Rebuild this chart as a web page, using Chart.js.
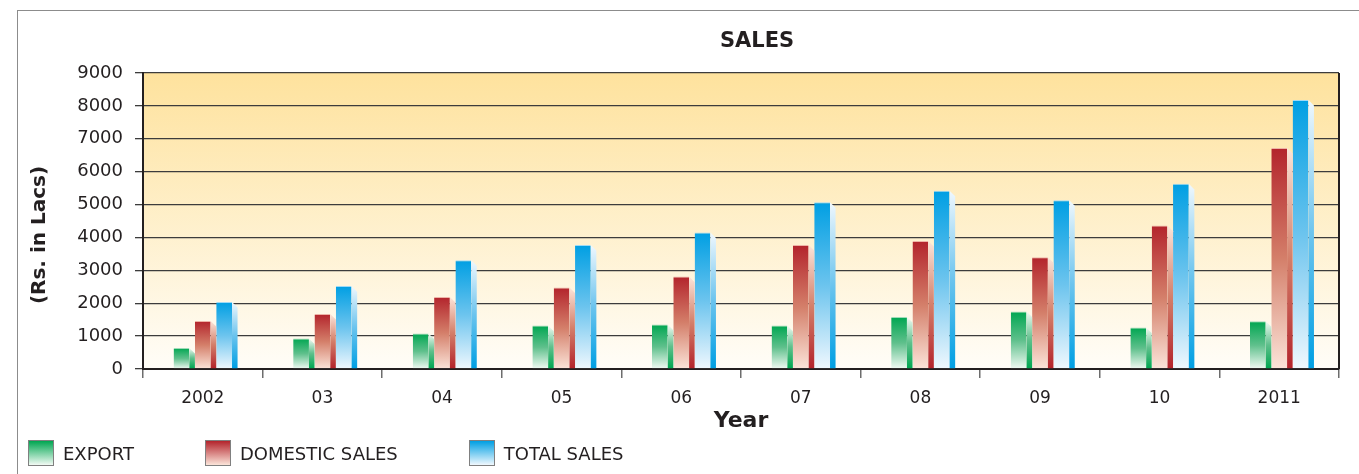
<!DOCTYPE html>
<html>
<head>
<meta charset="utf-8">
<title>Sales</title>
<script src="https://cdn.jsdelivr.net/npm/chart.js@4.4.1/dist/chart.umd.min.js"></script>
<style>
  html, body { margin: 0; padding: 0; background: #fff; overflow: hidden; }
  #wrap { position: relative; width: 1359px; height: 474px; }
  #frame { position: absolute; left: 17px; top: 10px; width: 1400px; height: 500px; border: 1.5px solid #8c8c8c; }
  #salesChart { position: absolute; left: 0; top: 0; }
  #legend { position: absolute; left: 28px; top: 440px; display: flex; font-family: 'DejaVu Sans'; font-size: 18px; color: #231f20; }
  .item { display: flex; align-items: center; margin-right: 71px; }
  .box { width: 26px; height: 26px; border: 1px solid #808080; box-sizing: border-box; margin-right: 9px; }
</style>
</head>
<body>
<div id="wrap">
  <div id="frame"></div>
  <canvas id="salesChart" width="1359" height="474"></canvas>
  <div id="legend"></div>
</div>
<script>
const YEARS = ['2002', '03', '04', '05', '06', '07', '08', '09', '10', '2011'];
const EXPORT = [640, 930, 1080, 1320, 1350, 1320, 1580, 1750, 1260, 1450];
const DOMESTIC = [1460, 1670, 2190, 2480, 2810, 3770, 3890, 3400, 4360, 6720];
const TOTAL = [2040, 2520, 3310, 3770, 4150, 5070, 5420, 5130, 5630, 8180];
const Y_MAX = 9000;
const Y_STEP = 1000;

const FONT = "'DejaVu Sans'";
const TEXT = '#231f20';
const BAR_PCT = 0.74;

// front: dark at top -> light at bottom, side: the other way round
const COLORS = {
  green: { top: '#00a651', mid: '#5fc08c', bottom: '#f2faf4', edge: '#9fdcb8' },
  red: { top: '#b3242c', mid: '#d47f6a', bottom: '#fbe4d9', edge: '#eeb3a6' },
  blue: { top: '#009fe3', mid: '#6cc4ee', bottom: '#f0f8fe', edge: '#9fdaf6' }
};

const front = (c) => (ctx) => {
  const { chart } = ctx;
  if (!chart.chartArea || ctx.type !== 'data') return c.top;
  const y = chart.scales.y.getPixelForValue(ctx.raw);
  const base = chart.scales.y.getPixelForValue(0);
  const g = chart.ctx.createLinearGradient(0, y, 0, base);
  g.addColorStop(0, c.top);
  g.addColorStop(0.5, c.mid);
  g.addColorStop(1, c.bottom);
  return g;
};

const datasets = [
  { label: 'EXPORT', data: EXPORT, c: COLORS.green },
  { label: 'DOMESTIC SALES', data: DOMESTIC, c: COLORS.red },
  { label: 'TOTAL SALES', data: TOTAL, c: COLORS.blue }
].map(d => ({
  label: d.label,
  data: d.data,
  backgroundColor: front(d.c),
  borderColor: d.c.edge,
  borderWidth: { top: 1, left: 0, right: 0, bottom: 0 },
  borderSkipped: 'bottom',
  colors3d: d.c,
  barPercentage: BAR_PCT,
  categoryPercentage: 0.535
}));

// cream background of the plot area + right frame line
const plotBackground = {
  id: 'plotBackground',
  beforeDraw(chart) {
    const { ctx, chartArea: a } = chart;
    const g = ctx.createLinearGradient(0, a.top, 0, a.bottom);
    g.addColorStop(0, '#fee29d');
    g.addColorStop(1, '#fffdf8');
    ctx.save();
    ctx.fillStyle = g;
    ctx.fillRect(a.left, a.top, a.right - a.left, a.bottom - a.top);
    ctx.restore();
  },
  beforeDatasetsDraw(chart) {
    const { ctx, chartArea: a } = chart;
    ctx.save();
    ctx.strokeStyle = '#231f20';
    ctx.lineWidth = 2;
    ctx.beginPath();
    ctx.moveTo(a.right, a.top);
    ctx.lineTo(a.right, a.bottom);
    ctx.stroke();
    ctx.restore();
  }
};

// right-hand face of each bar for the 3d look
const barSides = {
  id: 'barSides',
  afterDatasetsDraw(chart) {
    const { ctx } = chart;
    chart.data.datasets.forEach((ds, i) => {
      const meta = chart.getDatasetMeta(i);
      meta.data.forEach(bar => {
        const { x, y, base, width } = bar.getProps(['x', 'y', 'base', 'width'], true);
        const d = width / BAR_PCT - width;
        const xr = x + width / 2;
        const g = ctx.createLinearGradient(0, y, 0, base);
        g.addColorStop(0, ds.colors3d.bottom);
        g.addColorStop(0.5, ds.colors3d.mid);
        g.addColorStop(1, ds.colors3d.top);
        ctx.save();
        ctx.fillStyle = g;
        ctx.beginPath();
        ctx.moveTo(xr, y);
        ctx.lineTo(xr + d, y + d);
        ctx.lineTo(xr + d, base);
        ctx.lineTo(xr, base);
        ctx.closePath();
        ctx.fill();
        ctx.restore();
      });
    });
  }
};

// chart title and y axis title
const titles = {
  id: 'titles',
  afterDraw(chart) {
    const { ctx, chartArea: a } = chart;
    ctx.save();
    ctx.fillStyle = TEXT;
    ctx.textAlign = 'center';
    ctx.textBaseline = 'middle';
    ctx.font = `bold 21px ${FONT}`;
    ctx.fillText('SALES', (a.left + a.right) / 2 + 16, 42);
    ctx.font = `bold 20px ${FONT}`;
    ctx.translate(40, (a.top + a.bottom) / 2 + 14);
    ctx.rotate(-Math.PI / 2);
    ctx.fillText('(Rs. in Lacs)', 0, 0);
    ctx.restore();
  }
};

const chart = new Chart(document.getElementById('salesChart'), {
  type: 'bar',
  data: { labels: YEARS, datasets },
  options: {
    responsive: false,
    animation: false,
    layout: { padding: { top: 73, right: 20, bottom: 30, left: 0 } },
    plugins: {
      legend: { display: false },
      title: { display: false },
      tooltip: { enabled: false }
    },
    scales: {
      x: {
        grid: { display: true, drawOnChartArea: false, offset: true, tickLength: 9, color: '#6d6d6d', lineWidth: 1.5 },
        border: { display: true, color: TEXT, width: 2 },
        ticks: { color: TEXT, font: { family: FONT, size: 17 }, padding: 10 },
        title: { display: true, text: 'Year', color: TEXT, font: { family: FONT, size: 22, weight: 'bold' }, padding: { top: 2, bottom: 10 } },
        afterFit: (scale) => { scale.height = 75; }
      },
      y: {
        min: 0,
        max: Y_MAX,
        grid: { color: '#3c3c3c', lineWidth: 1.3, tickLength: 8 },
        border: { display: true, color: TEXT, width: 2 },
        ticks: { stepSize: Y_STEP, color: TEXT, font: { family: FONT, size: 18 }, padding: 12, callback: (v) => String(v) },
        afterFit: (scale) => { scale.width = 143; }
      }
    }
  },
  plugins: [plotBackground, barSides, titles]
});

// legend under the chart
const legend = document.getElementById('legend');
datasets.forEach(ds => {
  const item = document.createElement('div');
  item.className = 'item';
  const box = document.createElement('div');
  box.className = 'box';
  box.style.background = `linear-gradient(${ds.colors3d.top}, ${ds.colors3d.bottom})`;
  const label = document.createElement('span');
  label.textContent = ds.label;
  item.appendChild(box);
  item.appendChild(label);
  legend.appendChild(item);
});
</script>
</body>
</html>
